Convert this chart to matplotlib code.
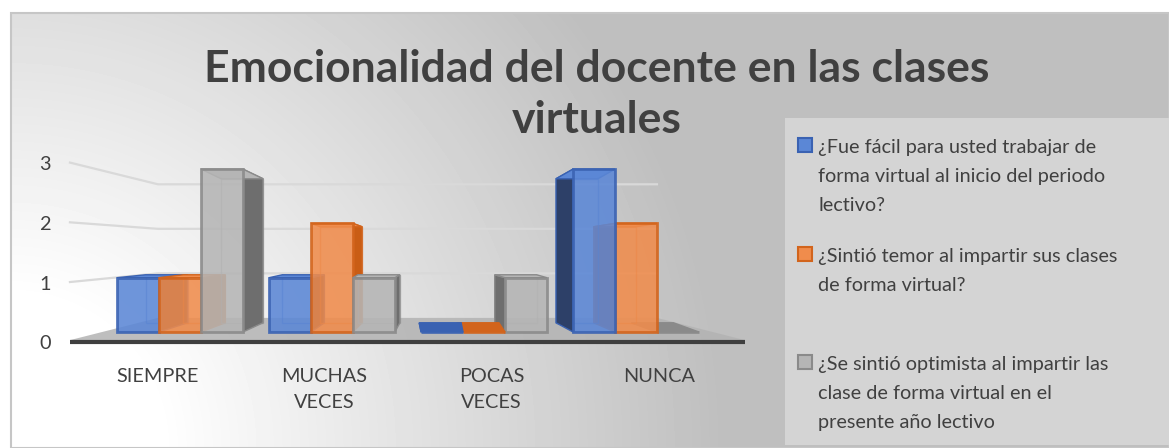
import numpy as np
import matplotlib.pyplot as plt
from matplotlib.patches import Polygon, Rectangle

categories = ["SIEMPRE", "MUCHAS\nVECES", "POCAS\nVECES", "NUNCA"]
series_names = [
    "¿Fue fácil para usted trabajar de\nforma virtual al inicio del periodo\nlectivo?",
    "¿Sintió temor al impartir sus clases\nde forma virtual?",
    "¿Se sintió optimista al impartir las\nclase de forma virtual en el\npresente año lectivo",
]
facil = [1, 1, 0, 3]
temor = [1, 2, 0, 2]
optimista = [3, 1, 1, 0]
yticks = [0, 1, 2, 3]
title_lines = ["Emocionalidad del docente en las clases", "virtuales"]

W, H = 1169, 448
plt.rcParams['font.family'] = ['Lato', 'DejaVu Sans']
txt = '#404040'

fig = plt.figure(figsize=(W / 100, H / 100), dpi=100)

# pixel-space axes: background, frame, title, legend
bg = fig.add_axes([0, 0, 1, 1])
bg.set_xlim(0, W)
bg.set_ylim(H, 0)
bg.axis('off')
yy, xx = np.mgrid[0:H, 0:W]
r = np.hypot(xx - 10, yy - 448)
shade = 255 - 64 * np.clip((r - 150) / 560, 0, 1)
shade[:12, :] = 255
shade[:, :10] = 255
bg.imshow(shade, cmap='gray', vmin=0, vmax=255, extent=(0, W, H, 0),
          aspect='auto', interpolation='bilinear')
bg.add_patch(Rectangle((11, 13), W - 11, H - 13, fill=False, ec='#c6c6c6', lw=1.5))

# title
bg.text(597, 82, title_lines[0], ha='center', va='baseline', fontsize=32,
        fontweight='bold', color=txt)
bg.text(597, 133, title_lines[1], ha='center', va='baseline', fontsize=32,
        fontweight='bold', color=txt)

front_c = ['#5b87d6', '#f08c4c', '#b5b5b5']
edge_c = ['#3a62b2', '#d2641c', '#8a8a8a']
side_c = ['#2d4068', '#c95d15', '#6e6e6e']

# legend (drawn by hand, Excel style)
bg.add_patch(Rectangle((785, 118), W - 785, 327, fc='#d4d4d4', ec='none'))
entry_top = [138, 247, 355]
for s, name in enumerate(series_names):
    bg.add_patch(Rectangle((797.5, entry_top[s]), 14, 14, fc=front_c[s],
                           ec=edge_c[s], lw=1.5))
    for k, line in enumerate(name.split("\n")):
        bg.text(818, entry_top[s] + 15 + 29 * k, line, ha='left', va='baseline',
                fontsize=14.3, color=txt)

# data axes, same extent as the figure
ax = fig.add_axes([0, 0, 1, 1])
ax.set_xlim((0 - 180) / 152, (W - 180) / 152)
ax.set_ylim((332 - H) / 54.3, 332 / 54.3)
ax.axis('off')


def wall_front(v):
    return -0.18 + 1.1 * v


def wall_back(v):
    return 0.26 + 0.82 * v


def bar_back(v):
    return 0.17 + 0.884 * v


# floor + back wall gridlines
x_left, x_back_l, x_back_r, x_right = -0.724, -0.145, 3.138, 3.717
ax.add_patch(Polygon([(x_left, -0.15), (x_back_l, 0.26), (x_back_r, 0.26), (x_right, -0.15)],
                     fc='#b3b3b3', ec='none', alpha=0.85, zorder=1))
for v in yticks[1:]:
    ax.plot([x_left, x_back_l, x_back_r], [wall_front(v), wall_back(v), wall_back(v)],
            color='#d9d9d9', lw=1.6, zorder=1)
ax.plot([x_left, x_right], [-0.18, -0.18], color='#3f3f3f', lw=3, solid_capstyle='butt', zorder=2)

for v in yticks:
    ax.text(-0.888, wall_front(v) - 0.04, str(v), ha='center', va='center',
            fontsize=14.3, color=txt)

for i, cat in enumerate(categories):
    xl = i + 0.1 * (i - 1.5)
    for k, line in enumerate(cat.split("\n")):
        ax.text(xl, -0.92 - 0.48 * k, line, ha='center', va='baseline',
                fontsize=14.3, color=txt)

# bars with a fake 3D depth; bars far from the view centre are painted first
w = 0.276
vc = 1.6
xs = np.arange(len(categories))
for s, vals in enumerate([facil, temor, optimista]):
    bars = ax.bar(xs + (s - 1) * w, vals, w, color=front_c[s], ec=edge_c[s], lw=2,
                  alpha=0.88)
    for i, v in enumerate(vals):
        xc = i + (s - 1) * w
        z = 10 - abs(xc - vc)
        x0, x1 = xc - w / 2, xc + w / 2
        dx = -0.1 * (xc - vc)
        yt, yb = bar_back(v), 0.17
        ax.add_patch(Rectangle((x0 + dx, yb), w, yt - yb, fc='none', ec=edge_c[s],
                               lw=1, alpha=0.5, zorder=z - 0.02))
        xe = x1 if dx > 0 else x0
        ax.add_patch(Polygon([(xe, 0), (xe, v), (xe + dx, yt), (xe + dx, yb)],
                             fc=side_c[s], ec=edge_c[s], lw=1, zorder=z - 0.01))
        top_fc = front_c[s] if v > 0 else edge_c[s]
        ax.add_patch(Polygon([(x0, v), (x1, v), (x1 + dx, yt), (x0 + dx, yt)],
                             fc=top_fc, ec=edge_c[s], lw=1, zorder=z - 0.01))
        bars[i].set_zorder(z)

fig.savefig("out.png", dpi=100)
